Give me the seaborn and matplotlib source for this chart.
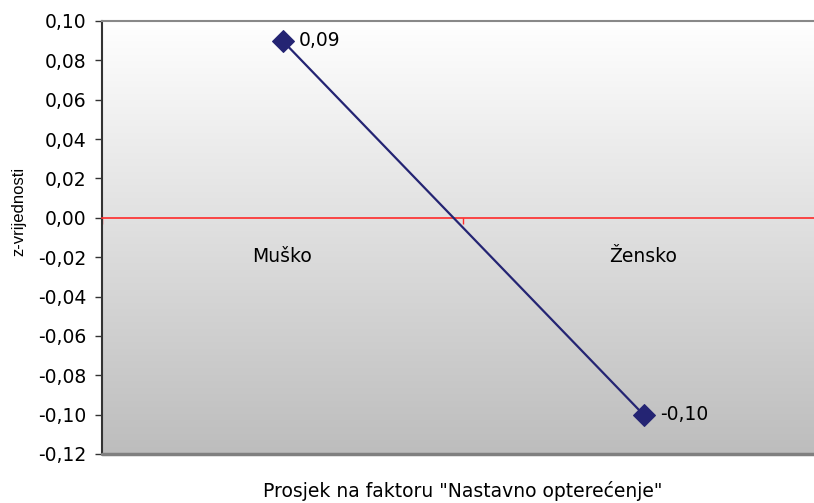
import numpy as np
import seaborn as sns
import matplotlib.pyplot as plt
from matplotlib.colors import LinearSegmentedColormap
from matplotlib.ticker import FuncFormatter

# data
categories = ["Muško", "Žensko"]
z_values = [0.09, -0.10]
value_labels = ["0,09", "-0,10"]
y_ticks = [0.10, 0.08, 0.06, 0.04, 0.02, 0.00, -0.02, -0.04, -0.06, -0.08, -0.10, -0.12]

sns.set_style("white")
# the original text is wide, DejaVu Sans gives about the same footprint
plt.rcParams['font.family'] = ['DejaVu Sans']
plt.rcParams['text.color'] = 'black'
plt.rcParams['axes.labelcolor'] = 'black'
plt.rcParams['xtick.color'] = 'black'
plt.rcParams['ytick.color'] = 'black'

fs = 13.5

fig = plt.figure(figsize=(8.14, 5.03), dpi=100)
# axes runs a bit past the right edge, like the original
ax = fig.add_axes([102 / 814, 1 - 454 / 503, (824 - 102) / 814, (454 - 21) / 503])

ymin, ymax = -0.12, 0.10
ax.set_xlim(-0.5, 1.5)
ax.set_ylim(ymin, ymax)

# grey gradient background, white on top
cmap = LinearSegmentedColormap.from_list("bg", ["#ffffff", "#bdbdbd"])
grad = np.linspace(0, 1, 256).reshape(-1, 1)
ax.imshow(grad, cmap=cmap, aspect="auto", extent=[-0.5, 1.5, ymin, ymax],
          origin="upper", zorder=0)

sns.lineplot(x=[0, 1], y=z_values, ax=ax, color="#242473", linewidth=1.6,
             marker="D", markersize=11, markeredgecolor="#242473", zorder=5)

for i, (v, lab) in enumerate(zip(z_values, value_labels)):
    ax.annotate(lab, (i, v), xytext=(12, 0), textcoords="offset points",
                va="center", ha="left", fontsize=fs)

# x axis sits on zero, red
ax.spines['bottom'].set_position(('data', 0))
ax.spines['bottom'].set_color("#ff2a2a")
ax.spines['bottom'].set_linewidth(1.2)
ax.spines['bottom'].set_zorder(3)
ax.spines['top'].set_color("#888888")
ax.spines['top'].set_linewidth(1.5)
ax.spines['right'].set_visible(False)
ax.spines['left'].set_color("#333333")
ax.spines['left'].set_linewidth(1.5)
ax.axhline(ymin, color="#808080", linewidth=2.5, clip_on=False, zorder=4)

ax.set_xticks([-0.5, 0.5, 1.5])
ax.set_xticklabels([])
ax.set_xticks([0, 1], minor=True)
ax.set_xticklabels(categories, minor=True, fontsize=fs)
ax.tick_params(axis="x", which="major", direction="out", length=4,
               color="#ff2a2a", width=1, bottom=True)
ax.tick_params(axis="x", which="minor", length=0, pad=21)

ax.set_yticks(y_ticks)
ax.yaxis.set_major_formatter(FuncFormatter(lambda v, p: f"{v:.2f}".replace(".", ",")))
ax.tick_params(axis="y", direction="out", length=5, width=1, color="#333333",
               left=True, labelsize=fs, pad=6)

fig.text(19 / 814, 1 - 211 / 503, "z-vrijednosti", rotation=90,
         ha="center", va="center", fontsize=12,
         family=['Liberation Sans', 'DejaVu Sans'])
fig.text(463 / 814, 1 - 491 / 503, 'Prosjek na faktoru "Nastavno opterećenje"',
         ha="center", va="center", fontsize=fs)

fig.savefig("out.png", dpi=100)
